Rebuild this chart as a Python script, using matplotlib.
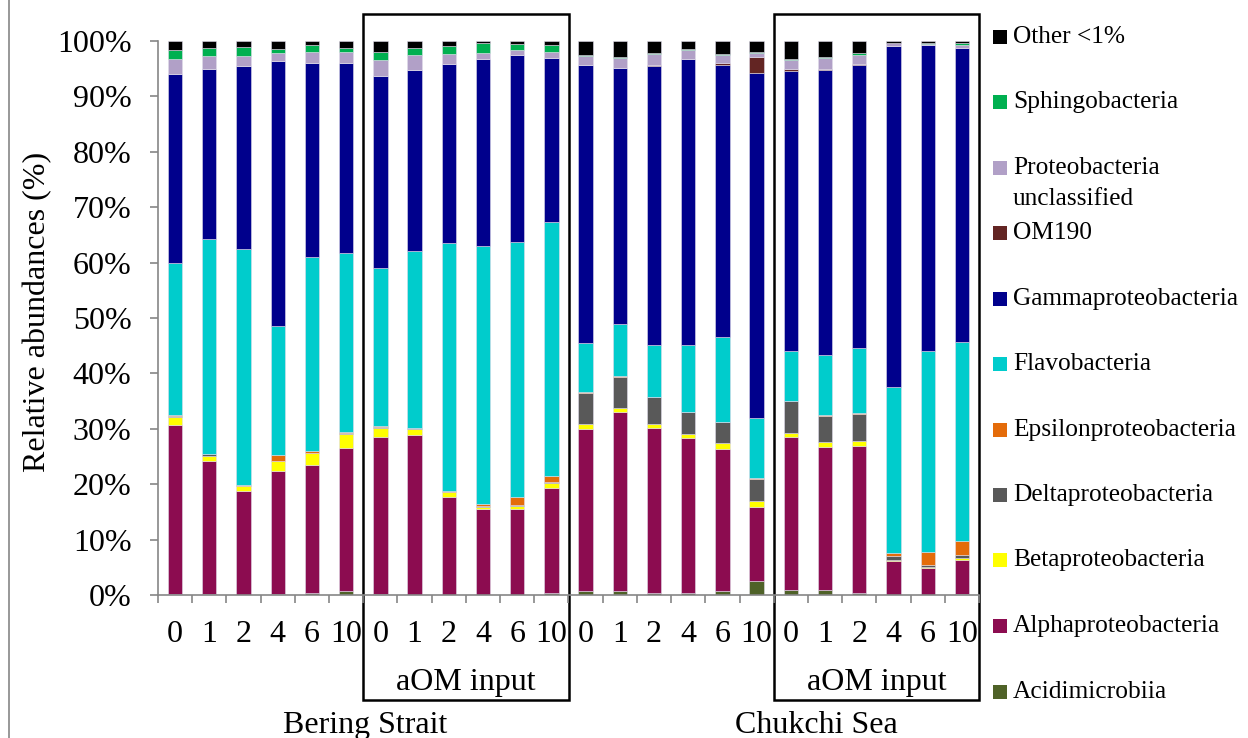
import matplotlib
matplotlib.use("Agg")
import matplotlib.pyplot as plt
from matplotlib.patches import Rectangle
from matplotlib.lines import Line2D
import numpy as np

plt.rcParams['font.family'] = ['Liberation Serif', 'DejaVu Serif']

tick_labels = ['0', '1', '2', '4', '6', '10'] * 4
group_labels = ['Bering Strait', 'Chukchi Sea']
box_label = 'aOM input'

# Stack order bottom -> top
series_names = ['Acidimicrobiia', 'Alphaproteobacteria', 'Betaproteobacteria',
                'Deltaproteobacteria', 'Epsilonproteobacteria', 'Flavobacteria',
                'Gammaproteobacteria', 'OM190', 'Proteobacteria\nunclassified',
                'Sphingobacteria', 'Other <1%']
series_colors = ['#4F6228', '#8C0C50', '#FFFF00', '#595959', '#E46C0A', '#00CCCC',
                 '#00008C', '#632523', '#B1A0C7', '#00B050', '#000000']

acidimicrobiia = [0.2, 0.1, 0.0, 0.1, 0.3, 0.7, 0.1, 0.0, 0.0, 0.0, 0.0, 0.3,
                  0.8, 0.7, 0.3, 0.3, 0.7, 2.6, 0.9, 0.9, 0.4, 0.0, 0.0, 0.2]
alpha = [30.5, 24.0, 18.8, 22.2, 23.2, 25.8, 28.5, 28.8, 17.7, 15.5, 15.6, 19.1,
         29.2, 32.3, 29.8, 28.1, 25.7, 13.3, 27.6, 25.9, 26.5, 6.1, 4.9, 6.1]
beta = [1.5, 1.0, 0.9, 1.8, 2.1, 2.6, 1.5, 1.2, 0.9, 0.3, 0.5, 0.9,
        0.9, 0.8, 0.7, 0.7, 1.0, 1.0, 0.8, 0.8, 0.9, 0.3, 0.1, 0.3]
delta = [0.2, 0.3, 0.0, 0.1, 0.1, 0.1, 0.2, 0.1, 0.0, 0.2, 0.1, 0.1,
         5.6, 5.6, 4.9, 3.9, 3.8, 4.0, 5.7, 4.8, 4.8, 0.7, 0.5, 0.6]
epsilon = [0.1, 0.0, 0.1, 1.0, 0.3, 0.2, 0.2, 0.1, 0.1, 0.5, 1.5, 1.1,
           0.1, 0.2, 0.1, 0.1, 0.1, 0.3, 0.1, 0.1, 0.3, 0.4, 2.3, 2.6]
flavo = [27.5, 38.9, 42.6, 23.3, 35.0, 32.4, 28.5, 31.9, 44.9, 46.5, 46.1, 45.9,
         8.9, 9.4, 9.3, 12.0, 15.2, 10.7, 8.9, 10.8, 11.6, 30.0, 36.3, 35.8]
gamma = [34.0, 30.7, 33.1, 47.8, 35.1, 34.3, 34.6, 32.7, 32.3, 33.8, 33.6, 29.6,
         50.1, 46.1, 50.3, 51.7, 49.2, 62.3, 50.6, 51.4, 51.1, 61.6, 55.1, 53.2]
om190 = [0.0, 0.0, 0.0, 0.0, 0.0, 0.0, 0.0, 0.0, 0.0, 0.0, 0.0, 0.0,
         0.1, 0.1, 0.2, 0.0, 0.3, 3.0, 0.3, 0.2, 0.2, 0.0, 0.0, 0.0]
unclassified = [2.7, 2.3, 1.8, 1.5, 1.9, 2.0, 2.9, 2.7, 1.8, 1.0, 1.0, 1.0,
                1.6, 1.7, 2.0, 1.5, 1.5, 0.6, 1.6, 2.0, 1.7, 0.5, 0.3, 0.4]
sphingo = [1.6, 1.5, 1.6, 0.8, 1.2, 0.7, 1.5, 1.2, 1.4, 1.8, 1.1, 1.2,
           0.2, 0.2, 0.2, 0.2, 0.2, 0.2, 0.2, 0.2, 0.3, 0.1, 0.2, 0.4]
other = [1.7, 1.2, 1.1, 1.4, 0.8, 1.2, 2.0, 1.3, 0.9, 0.4, 0.5, 0.8,
         2.5, 2.9, 2.2, 1.5, 2.3, 2.0, 3.3, 2.9, 2.2, 0.3, 0.3, 0.4]

series = [acidimicrobiia, alpha, beta, delta, epsilon, flavo, gamma, om190,
          unclassified, sphingo, other]

W, H = 1248, 738
fig = plt.figure(figsize=(W / 100, H / 100), dpi=100)
ax = fig.add_axes([158 / W, 143 / H, (979 - 158) / W, 554 / H])

x = np.arange(len(tick_labels))
bottom = np.zeros(len(x))
for vals, col in zip(series, series_colors):
    v = np.array(vals) / 100.0
    ax.bar(x, v, width=0.42, bottom=bottom, color=col, edgecolor='#E0DCEA',
           linewidth=0.4)
    bottom += v

ax.set_xlim(-0.5, len(x) - 0.5)
ax.set_ylim(0, 1)
ax.set_yticks(np.arange(0, 1.01, 0.1))
ax.set_yticklabels([f'{int(round(t * 100))}%' for t in np.arange(0, 1.01, 0.1)],
                   fontsize=23)
ax.set_xticks(x)
ax.set_xticklabels(tick_labels, fontsize=23)
ax.set_xticks(np.arange(-0.5, len(x), 1.0), minor=True)
ax.tick_params(axis='x', which='major', length=0, pad=18)
ax.tick_params(axis='x', which='minor', length=6, color='#868686', width=1.2,
               direction='out')
ax.tick_params(axis='y', length=6, color='#868686', width=1.2, pad=13)
for s in ['top', 'right']:
    ax.spines[s].set_visible(False)
for s in ['left', 'bottom']:
    ax.spines[s].set_color('#868686')
    ax.spines[s].set_linewidth(1.2)

# aOM input boxes
for x0, x1 in [(5.5, 11.5), (17.5, 23.5)]:
    r = Rectangle((x0, -0.1895), x1 - x0, 1.049 + 0.1895, fill=False,
                  edgecolor='black', linewidth=1.8,
                  transform=ax.get_xaxis_transform(), clip_on=False)
    ax.add_patch(r)
    ax.text((x0 + x1) / 2, -0.158, box_label, fontsize=23, ha='center',
            va='center', transform=ax.get_xaxis_transform())

ax.text(5.55, -0.236, group_labels[0], fontsize=23, ha='center', va='center',
        transform=ax.get_xaxis_transform())
ax.text(18.75, -0.236, group_labels[1], fontsize=23, ha='center', va='center',
        transform=ax.get_xaxis_transform())

fig.text(38 / W, 1 - 312 / H, 'Relative abundances (%)', fontsize=23,
         rotation=90, ha='center', va='center')

# Legend (top -> bottom)
leg_y = [37, 102, 168, 233, 299, 364, 430, 495, 560, 626, 692]
for name, col, yc in zip(series_names[::-1], series_colors[::-1], leg_y):
    fig.patches.append(Rectangle((993 / W, 1 - (yc + 7) / H), 14 / W, 14 / H,
                                 facecolor=col, edgecolor='none',
                                 transform=fig.transFigure, figure=fig))
    lines = name.split('\n')
    for k, ln in enumerate(lines):
        fig.text(1013 / W, 1 - (yc + k * 31) / H, ln, fontsize=18.3,
                 ha='left', va='center')

# outer chart border
fig.add_artist(Line2D([9 / W, 9 / W], [0, 1], color='#868686', linewidth=1.2,
                      transform=fig.transFigure))

fig.savefig('out.png', dpi=100)
